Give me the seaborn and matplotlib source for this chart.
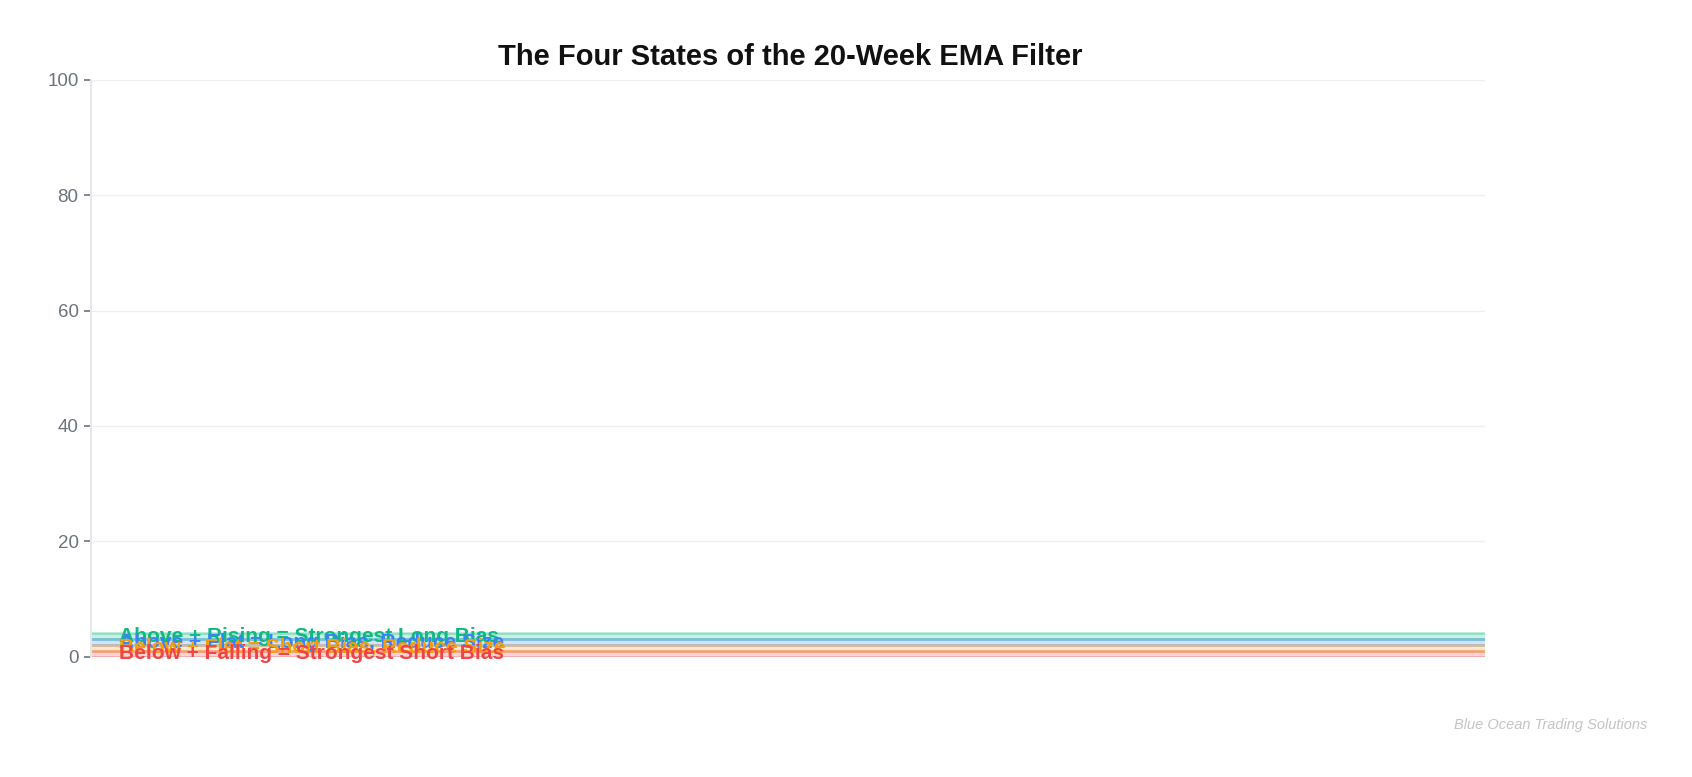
import matplotlib
matplotlib.use("Agg")
import matplotlib.pyplot as plt
import seaborn as sns

# four EMA states, drawn as thin bands near the bottom of a 0-100 scale
states = ["Above + Rising = Strongest Long Bias",
          "Above + Flat = Long Bias, Reduce Size",
          "Below + Flat = Short Bias, Reduce Size",
          "Below + Falling = Strongest Short Bias"]
band_low = [3, 2, 1, 0]
band_high = [4, 3, 2, 1]
label_y = [3.5, 2.5, 1.5, 0.5]
colors = ["#10b981", "#3b82f6", "#f59e0b", "#ef4444"]
x_range = [0, 100]
label_x = 2
y_ticks = [0, 20, 40, 60, 80, 100]

sns.set_theme(style="white")
plt.rcParams['font.family'] = ['Liberation Sans', 'DejaVu Sans']

fig = plt.figure(figsize=(16.92, 7.77), dpi=100)
ax = fig.add_axes([91 / 1692, 1 - 656.5 / 777, (1485 - 91) / 1692, (656.5 - 80) / 777])

for lo, hi, c in zip(band_low, band_high, colors):
    ax.fill_between(x_range, [lo, lo], [hi, hi], color=c, alpha=0.22, linewidth=0)
    ax.plot(x_range, [hi, hi], color=c, alpha=0.3, lw=2)
    ax.plot(x_range, [lo, lo], color=c, alpha=0.3, lw=2)

for name, y, c in zip(states, label_y, colors):
    ax.text(label_x, y, name, color=c, fontsize=15, fontweight="bold",
            ha="left", va="center")

ax.set_xlim(x_range)
ax.set_ylim(0, 100)
ax.set_yticks(y_ticks)
ax.set_xticks([])
ax.grid(axis="y", color="#f0f0f0", lw=1)
ax.set_axisbelow(True)
for s in ["top", "right", "bottom"]:
    ax.spines[s].set_visible(False)
ax.spines["left"].set_color("#e5e7eb")
ax.spines["left"].set_linewidth(1.5)
ax.tick_params(axis="y", colors="#6b7280", labelsize=13.5, length=5, width=1.2,
               left=True, pad=4)

fig.text(790 / 1692, 1 - 57 / 777, "The Four States of the 20-Week EMA Filter",
         ha="center", va="center", fontsize=21, fontweight="bold", color="#111111")
fig.text(1647 / 1692, 1 - 725 / 777, "Blue Ocean Trading Solutions",
         ha="right", va="center", fontsize=10.5, style="italic", color="#c4c4c4")

fig.savefig("out.png", dpi=100, facecolor="white")
